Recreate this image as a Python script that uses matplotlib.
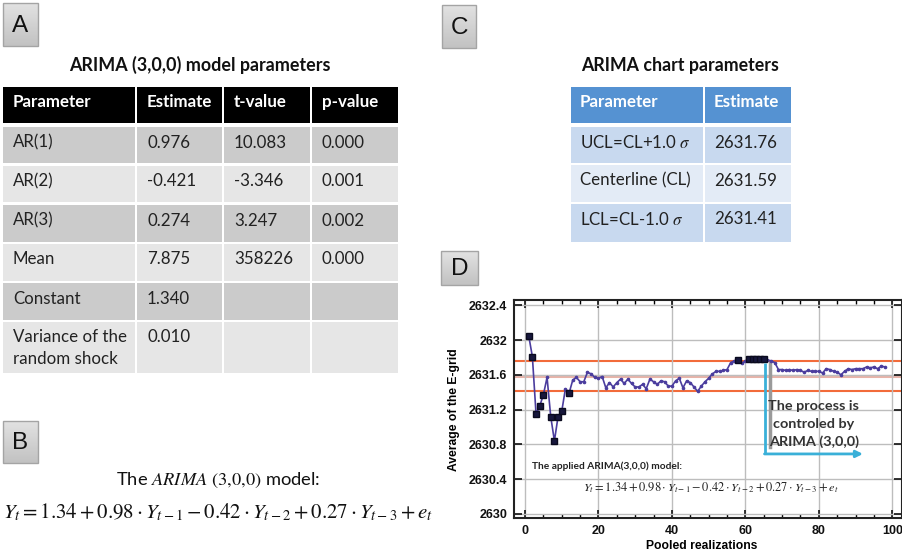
import matplotlib
matplotlib.use('Agg')
import matplotlib.pyplot as plt
import numpy as np
from matplotlib.patches import Rectangle
from matplotlib.ticker import MultipleLocator, FixedLocator

plt.rcParams['mathtext.fontset'] = 'stix'

# ---------------- data ----------------
tableA_title = "ARIMA (3,0,0) model parameters"
tableA_header = ["Parameter", "Estimate", "t-value", "p-value"]
tableA_params = ["AR(1)", "AR(2)", "AR(3)", "Mean", "Constant", "Variance of the\nrandom shock"]
tableA_estimate = ["0.976", "-0.421", "0.274", "7.875", "1.340", "0.010"]
tableA_tvalue = ["10.083", "-3.346", "3.247", "358226", "", ""]
tableA_pvalue = ["0.000", "0.001", "0.002", "0.000", "", ""]

tableC_title = "ARIMA chart parameters"
tableC_header = ["Parameter", "Estimate"]
tableC_params = ["UCL=CL+1.0 $\\sigma$", "Centerline (CL)", "LCL=CL-1.0 $\\sigma$"]
tableC_estimate = ["2631.76", "2631.59", "2631.41"]

model_caption = "The $\\mathit{ARIMA}$ $(3{,}0{,}0)$ model:"
model_equation = r"$Y_t = 1.34 + 0.98 \cdot Y_{t-1} - 0.42 \cdot Y_{t-2} + 0.27 \cdot Y_{t-3} + e_t$"

ucl, cl, lcl = 2631.76, 2631.59, 2631.41

realization = np.arange(1, 99)
egrid_avg = [
    2632.05, 2631.81, 2631.15, 2631.24, 2631.37, 2631.57, 2631.12, 2630.84, 2631.12, 2631.18,
    2631.44, 2631.39, 2631.54, 2631.57, 2631.52, 2631.52, 2631.63, 2631.61, 2631.57, 2631.56,
    2631.58, 2631.45, 2631.51, 2631.46, 2631.51, 2631.55, 2631.50, 2631.55, 2631.50, 2631.46,
    2631.46, 2631.49, 2631.44, 2631.55, 2631.52, 2631.49, 2631.53, 2631.52, 2631.47, 2631.47,
    2631.53, 2631.56, 2631.45, 2631.53, 2631.51, 2631.46, 2631.41, 2631.47, 2631.52, 2631.56,
    2631.61, 2631.64, 2631.64, 2631.65, 2631.66, 2631.74, 2631.76, 2631.77, 2631.73, 2631.76,
    2631.78, 2631.78, 2631.78, 2631.78, 2631.78, 2631.77, 2631.76, 2631.74, 2631.66, 2631.66,
    2631.65, 2631.66, 2631.65, 2631.66, 2631.65, 2631.63, 2631.65, 2631.64, 2631.64, 2631.64,
    2631.62, 2631.67, 2631.66, 2631.64, 2631.63, 2631.60, 2631.64, 2631.67, 2631.66, 2631.67,
    2631.67, 2631.67, 2631.69, 2631.68, 2631.69, 2631.67, 2631.70, 2631.69,
]
out_of_control = [1, 2, 3, 4, 5, 7, 8, 9, 10, 12, 58, 61, 62, 63, 64, 65]

xticks = [0, 20, 40, 60, 80, 100]
yticks = [2630, 2630.4, 2630.8, 2631.2, 2631.6, 2632, 2632.4]
ytick_labels = ["2630", "2630.4", "2630.8", "2631.2", "2631.6", "2632", "2632.4"]

annotation_text = ["The process is", "controled by", "ARIMA (3,0,0)"]

# ---------------- figure ----------------
W, H = 902, 552
fig = plt.figure(figsize=(W / 100, H / 100), dpi=100)
fig.patch.set_facecolor('white')

ov = fig.add_axes([0, 0, 1, 1])
ov.set_xlim(0, W)
ov.set_ylim(H, 0)
ov.axis('off')
ov.patch.set_alpha(0)

TFONT = 'Lato'
CELLFS = 12.2
grad = np.linspace(0, 1, 50).reshape(-1, 1)


def label_box(x0, x1, y0, y1, letter):
    ov.imshow(grad, cmap=matplotlib.colors.LinearSegmentedColormap.from_list('g', ['#e2e2e2', '#c2c2c2']),
              extent=(x0, x1, y1, y0), aspect='auto', zorder=2)
    ov.add_patch(Rectangle((x0, y0), x1 - x0, y1 - y0, fill=False, ec='#a4a4a4', lw=1, zorder=3))
    ov.text((x0 + x1) / 2, (y0 + y1) / 2 + 1, letter, ha='center', va='center', fontsize=17.5,
            family='Liberation Sans', color='#111111', zorder=4)
    ov.set_xlim(0, W)
    ov.set_ylim(H, 0)


label_box(3, 38, 3, 46, 'A')
label_box(3, 38, 421, 463, 'B')
label_box(442, 476, 5, 48, 'C')
label_box(441, 478, 251, 285, 'D')

# ---- Table A ----
ov.text(200, 65, tableA_title, ha='center', va='center', fontsize=12.9, fontweight='bold',
        family=TFONT, color='#111111')
colA_l = [3, 137, 224, 312]
colA_r = [135, 222, 310, 398]
rowA = [(87, 123), (127, 163), (166, 202), (205, 242), (244, 281), (283, 320), (322, 373)]
colsA = [tableA_params, tableA_estimate, tableA_tvalue, tableA_pvalue]
for ri, (t, b) in enumerate(rowA):
    if ri == 0:
        fc = '#000000'
    else:
        fc = '#cbcbcb' if ri % 2 == 1 else '#e6e6e6'
    for ci in range(4):
        ov.add_patch(Rectangle((colA_l[ci], t), colA_r[ci] - colA_l[ci], b - t, fc=fc, ec='none'))
        if ri == 0:
            s = tableA_header[ci]
            ov.text(colA_l[ci] + 10, t + 15, s, ha='left', va='center', fontsize=CELLFS,
                    fontweight='bold', family=TFONT, color='white')
        else:
            s = colsA[ci][ri - 1]
            lines = s.split('\n')
            for li, ln in enumerate(lines):
                ov.text(colA_l[ci] + 10, t + 15.5 + li * 21.6, ln, ha='left', va='center',
                        fontsize=CELLFS, family=TFONT, color='#222222')

# ---- Panel B ----
ov.text(218, 480, model_caption, ha='center', va='center', fontsize=13.2, family=TFONT,
        color='#111111')
ov.text(218, 512, model_equation, ha='center', va='center', fontsize=15, color='#111111')

# ---- Table C ----
ov.text(680, 65, tableC_title, ha='center', va='center', fontsize=12.8, fontweight='bold',
        family=TFONT, color='#111111')
colC_l = [571, 705]
colC_r = [703, 791]
rowC = [(87, 123), (127, 163), (165, 202), (204, 242)]
colsC = [tableC_params, tableC_estimate]
for ri, (t, b) in enumerate(rowC):
    if ri == 0:
        fc = '#5592d2'
    else:
        fc = '#c8d9ef' if ri % 2 == 1 else '#e3ebf6'
    for ci in range(2):
        ov.add_patch(Rectangle((colC_l[ci], t), colC_r[ci] - colC_l[ci], b - t, fc=fc, ec='none'))
        if ri == 0:
            ov.text(colC_l[ci] + 9, t + 15, tableC_header[ci], ha='left', va='center', fontsize=CELLFS,
                    fontweight='bold', family=TFONT, color='white')
        else:
            ov.text(colC_l[ci] + 9, t + 15.5, colsC[ci][ri - 1], ha='left', va='center', fontsize=CELLFS,
                    family=TFONT, color='#222222')

# ---- Panel D chart ----
L, R, T, B = 514, 901.5, 300, 518.3
ax = fig.add_axes([L / W, 1 - B / H, (R - L) / W, (B - T) / H])
ax.set_xlim(-3, 102.5)
ax.set_ylim(2629.95, 2632.46)
ax.xaxis.set_major_locator(FixedLocator(xticks))
ax.xaxis.set_minor_locator(MultipleLocator(5))
ax.set_yticks(yticks)
ax.set_yticklabels(ytick_labels)
ax.grid(True, which='major', color='#bdbdbd', lw=1.0, zorder=0)
ax.axhline(cl, color='#e8b3a8', lw=2.2, zorder=1)
ax.axhline(ucl, color='#f26b3a', lw=1.5, zorder=1)
ax.axhline(lcl, color='#f26b3a', lw=1.5, zorder=1)
ax.plot(realization, egrid_avg, color='#4b3d9e', lw=1.2, marker='o', ms=1.6, zorder=3)
ooc_y = [egrid_avg[list(realization).index(i)] for i in out_of_control]
ax.plot(out_of_control, ooc_y, 's', color='#17173c', ms=4.5, mec='#0a0a1e', zorder=4)

for sp in ax.spines.values():
    sp.set_linewidth(1.5)
    sp.set_color('#222222')
ax.tick_params(which='major', direction='in', top=True, right=True, length=6, width=1.2,
               labelsize=9, pad=5, colors='#111111')
ax.tick_params(which='minor', direction='in', top=True, right=True, length=3, width=1.0)
for lab in ax.get_xticklabels() + ax.get_yticklabels():
    lab.set_fontweight('bold')
    lab.set_family('Liberation Sans')
ax.set_xlabel('Pooled realizations', fontsize=8.7, fontweight='bold', family='Liberation Sans')
ax.set_ylabel('Average of the E-grid', fontsize=8.7, fontweight='bold', family='Liberation Sans')
ax.xaxis.set_label_coords(0.484, -0.10)
ax.yaxis.set_label_coords(-0.14, 0.496)

# annotation arrow
ax.plot([66.8, 66.8], [2631.74, 2630.77], color='#9a9a9a', lw=2.5, zorder=2)
ax.plot([65.45, 65.45], [2631.74, 2630.69], color='#3ab0d8', lw=2, zorder=5,
        solid_capstyle='butt')
ax.annotate('', xy=(92, 2630.69), xytext=(65.2, 2630.69),
            arrowprops=dict(arrowstyle='-|>', color='#3ab0d8', lw=2, mutation_scale=10,
                            shrinkA=0, shrinkB=0), zorder=5)
for i, ln in enumerate(annotation_text):
    ax.text(78.6, 2631.24 - i * 0.207, ln, ha='center', va='center', fontsize=10.4,
            fontweight='bold', family=TFONT, color='#333333', zorder=6)

ax.text(2, 2630.55, 'The applied ARIMA(3,0,0) model:', ha='left', va='center', fontsize=7.3,
        fontweight='bold', family=TFONT, color='#222222', zorder=6)
ax.text(50.5, 2630.30, model_equation, ha='center', va='center', fontsize=8.9,
        color='#222222', zorder=6)

fig.savefig('out.png', dpi=100)
